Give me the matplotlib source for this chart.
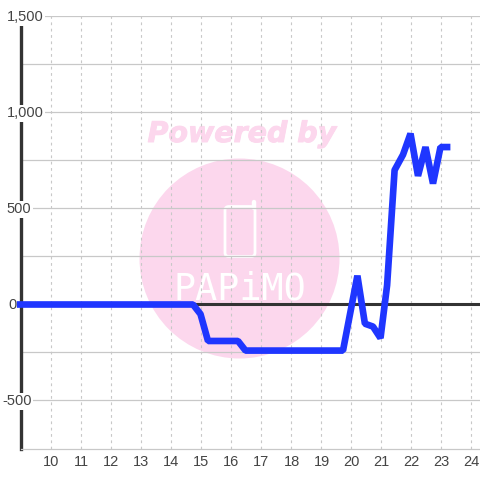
import matplotlib
matplotlib.use("Agg")
import matplotlib.pyplot as plt
import matplotlib.patheffects as pe
from matplotlib.patches import Circle, FancyBboxPatch
from matplotlib.lines import Line2D
from matplotlib.transforms import ScaledTranslation

hours = [8.88, 14.75, 15, 15.25, 16.25, 16.5, 19.75, 20.23, 20.48, 20.75, 21, 21.22,
         21.47, 21.75, 22, 22.25, 22.5, 22.75, 23, 23.33]
values = [0, 0, -50, -190, -190, -240, -240, 150, -100, -115, -175, 100,
          700, 780, 890, 670, 820, 630, 820, 820]
x_ticks = list(range(10, 25))
y_major = [-500, 0, 500, 1000, 1500]
y_minor = [-250, 250, 750, 1250]
y_labels = ["-500", "0", "500", "1,000", "1,500"]
label_left_px = [2, 8, 6.5, 7, 7]

W = H = 480
plt.rcParams['font.family'] = ['Liberation Sans', 'DejaVu Sans']
fig = plt.figure(figsize=(4.8, 4.8), dpi=100, facecolor='white')
ax = fig.add_axes([20.5/W, 1-448.5/H, (W-20.5)/W, (448.5-16.5)/H])
ax.set_xlim(9, 9 + (W-20.5)/30)
ax.set_ylim(-750, 1500)
ax.patch.set_alpha(0)

def fx(p): return p/W
def fy(p): return 1-p/H
PINK = '#fcd7ed'
fig.add_artist(Circle((fx(239.5), fy(258.5)), 100/W, transform=fig.transFigure, fc=PINK, ec='none', zorder=-5))
fig.text(fx(242), fy(134), "Powered by", color=PINK, fontsize=20.5, fontweight='bold', fontstyle='italic',
         family='DejaVu Sans', ha='center', va='center', zorder=-5,
         path_effects=[pe.withStroke(linewidth=0.7, foreground=PINK)])
fig.add_artist(FancyBboxPatch((fx(225), fy(256.5)), 30/W, 50/H, boxstyle="round,pad=0,rounding_size=0.008",
                              transform=fig.transFigure, fc='none', ec='white', lw=2, zorder=-4))
fig.add_artist(Line2D([fx(254.5), fx(254.5)], [fy(208), fy(201.5)], transform=fig.transFigure, color='white',
                      lw=3.2, solid_capstyle='round', zorder=-4))
fig.text(fx(240), fy(289), "PAPiMO", color='white', fontsize=26.5, family='DejaVu Sans Mono', ha='center', va='center',
         zorder=-4)

for v in y_major + y_minor:
    ax.axhline(v, color='#c8c8c8', lw=0.9, zorder=1)
ax.set_xticks(x_ticks)
ax.xaxis.grid(True, color='#c8c8c8', lw=0.8, ls=(0, (2.5, 3.2)), zorder=1)
ax.axhline(0, color='#333333', lw=2.2, zorder=2)
ax.plot(hours, values, color='#1f36ff', lw=4.8, solid_joinstyle='bevel', solid_capstyle='butt', zorder=7, clip_on=False)

for s in ['top', 'right']:
    ax.spines[s].set_visible(False)
ax.spines['bottom'].set_color('#c8c8c8')
ax.spines['bottom'].set_linewidth(0.9)
ax.spines['left'].set_color('#333333')
ax.spines['left'].set_linewidth(2.4)
ax.tick_params(axis='x', length=0, labelsize=10.5, labelcolor='#444444', pad=4.8)
shift = ScaledTranslation(1/100, 0, fig.dpi_scale_trans)
for lab in ax.get_xticklabels():
    lab.set_transform(lab.get_transform() + shift)
ax.set_yticks([])
for v, t, px in zip(y_major, y_labels, label_left_px):
    ax.annotate(t, xy=(0, v), xycoords=ax.get_yaxis_transform(), xytext=((px-20.5)*0.72, -0.7), textcoords='offset points',
                ha='left', va='center', fontsize=10.5, color='#444444', zorder=6, clip_on=False,
                bbox=dict(fc='white', ec='none', pad=1))
fig.savefig('out.png', dpi=100, facecolor='white')
